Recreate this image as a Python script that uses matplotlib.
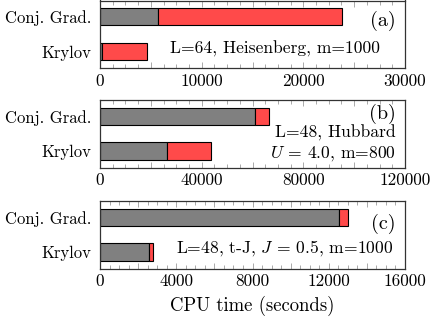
import matplotlib
matplotlib.use("Agg")
import matplotlib.pyplot as plt
from matplotlib.ticker import MultipleLocator, FuncFormatter

plt.rcParams['font.family'] = ['cmr10']
plt.rcParams['mathtext.fontset'] = 'cm'
plt.rcParams['axes.formatter.use_mathtext'] = True

methods = ["Krylov", "Conj. Grad."]

# panel (a)
a_gray = [200, 5700]
a_red = [4450, 18100]
# panel (b)
b_gray = [26400, 61000]
b_red = [17300, 5600]
# panel (c)
c_gray = [2550, 12520]
c_red = [215, 475]

gray_color = "#808080"
red_color = "#ff4a4a"

panels = [
    dict(gray=a_gray, red=a_red, xmax=30000, label_step=10000, mid_step=5000, minor=1250, tag="(a)", tag_y=0.70),
    dict(gray=b_gray, red=b_red, xmax=120000, label_step=40000, mid_step=20000, minor=5000, tag="(b)", tag_y=0.79),
    dict(gray=c_gray, red=c_red, xmax=16000, label_step=4000, mid_step=2000, minor=500, tag="(c)", tag_y=0.66),
]

W, H = 436, 320
fig = plt.figure(figsize=(W / 100, H / 100), dpi=100)
left = 100 / W
width = 305 / W
tops = [0.5, 100, 201]
ph = 67.5
fs_tick = 12.3
fs_y = 12.0
fs_ann = 12.6
fs_tag = 14.5
axes = []
for p, top in zip(panels, tops):
    ax = fig.add_axes([left, 1 - (top + ph) / H, width, ph / H])
    axes.append(ax)
    y = [0, 1]
    ax.barh(y, p["gray"], height=0.5, color=gray_color, edgecolor="black", linewidth=0.8)
    ax.barh(y, p["red"], left=p["gray"], height=0.5, color=red_color, edgecolor="black", linewidth=0.8)
    ax.set_xlim(0, p["xmax"])
    ax.set_ylim(-0.48, 1.47)
    ax.set_yticks(y)
    ax.set_yticklabels(methods, fontsize=fs_y)
    ax.tick_params(axis="y", length=0, pad=6)
    ax.xaxis.set_major_locator(MultipleLocator(p["mid_step"]))
    ax.xaxis.set_minor_locator(MultipleLocator(p["minor"]))
    step = p["label_step"]
    ax.xaxis.set_major_formatter(FuncFormatter(lambda v, pos, s=step: f"{int(round(v))}" if abs(v / s - round(v / s)) < 1e-6 else ""))
    ax.tick_params(axis="x", which="major", direction="in", top=True, bottom=True, length=4, width=0.5, color="#888888", labelsize=fs_tick, pad=4)
    ax.tick_params(axis="x", which="minor", direction="in", top=True, bottom=True, length=3, width=0.5, color="#888888")
    for s in ax.spines.values():
        s.set_linewidth(0.9)
        s.set_color("#333333")
    ax.text(0.97, p["tag_y"], p["tag"], transform=ax.transAxes, ha="right", va="center", fontsize=fs_tag)

axes[0].text(0.575, 0.28, "L=64, Heisenberg, m=1000", transform=axes[0].transAxes, ha="center", va="center", fontsize=fs_ann)
axes[1].text(0.97, 0.51, "L=48, Hubbard", transform=axes[1].transAxes, ha="right", va="center", fontsize=fs_ann)
axes[1].text(0.97, 0.21, r"$U$ = 4.0, m=800", transform=axes[1].transAxes, ha="right", va="center", fontsize=fs_ann)
axes[2].text(0.607, 0.31, r"L=48, t-J, $J$ = 0.5, m=1000", transform=axes[2].transAxes, ha="center", va="center", fontsize=fs_ann)
axes[2].set_xlabel("CPU time (seconds)", fontsize=13.5, labelpad=5)

fig.savefig("out.png", dpi=100)
